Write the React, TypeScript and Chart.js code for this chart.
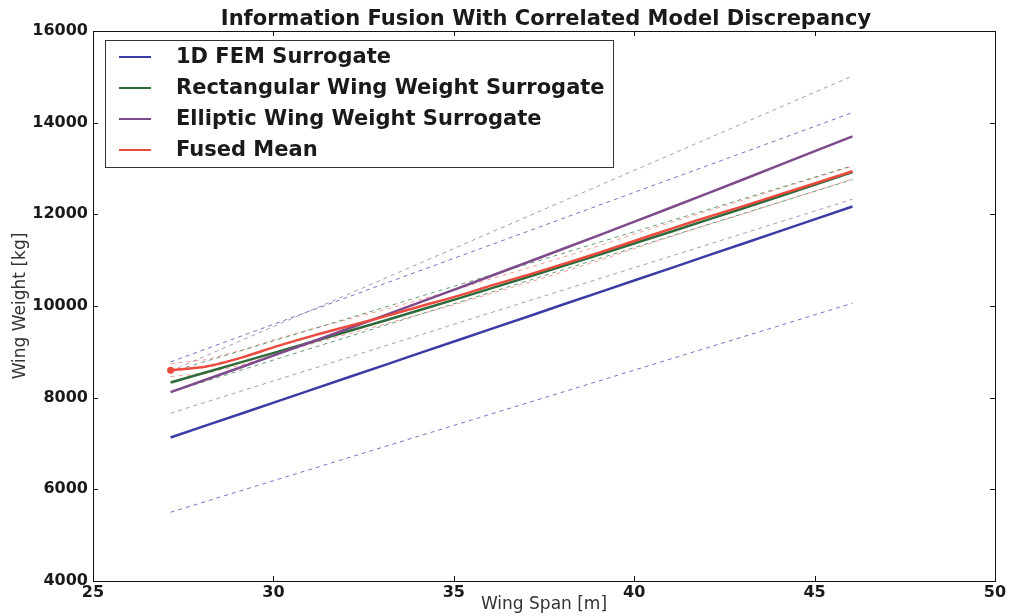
import React, { useEffect, useRef } from "react";
import { Chart, registerables } from "chart.js";

Chart.register(...registerables);

// ---- data ----
const chartTitle = "Information Fusion With Correlated Model Discrepancy";
const xTitle = "Wing Span [m]";
const yTitle = "Wing Weight [kg]";
const xTicks = [25, 30, 35, 40, 45, 50];
const yTicks = [4000, 6000, 8000, 10000, 12000, 14000, 16000];

const spans = [27.15, 28.14, 29.14, 30.13, 31.13, 32.12, 33.12, 34.11, 35.11, 36.1, 37.1, 38.09, 39.09, 40.08, 41.08, 42.07, 43.07, 44.06, 45.06, 46.05];
const femSurrogate = [7130, 7395, 7660, 7926, 8191, 8456, 8722, 8987, 9252, 9518, 9783, 10048, 10314, 10579, 10844, 11110, 11375, 11640, 11905, 12170];
const rectSurrogate = [8330, 8555, 8780, 9005, 9230, 9460, 9690, 9925, 10160, 10400, 10645, 10890, 11135, 11385, 11635, 11890, 12145, 12400, 12660, 12920];
const ellipticSurrogate = [8120, 8396, 8674, 8954, 9236, 9520, 9806, 10094, 10384, 10676, 10970, 11266, 11564, 11864, 12166, 12470, 12776, 13084, 13394, 13700];
const fusedMean = [8600, 8680, 8880, 9130, 9360, 9570, 9780, 10000, 10220, 10460, 10690, 10930, 11180, 11440, 11700, 11950, 12190, 12440, 12690, 12940];
const fusedUpper = [8740, 8830, 9040, 9290, 9510, 9720, 9930, 10150, 10370, 10610, 10840, 11080, 11330, 11590, 11840, 12080, 12320, 12570, 12810, 13050];
const fusedLower = [8460, 8530, 8720, 8960, 9190, 9400, 9610, 9830, 10050, 10290, 10520, 10760, 11010, 11270, 11530, 11780, 12020, 12270, 12520, 12770];

const bandSpan = [27.15, 46.05];
const femUpper = [8780, 14220];
const femLower = [5500, 10060];
const ellipticUpper = [8580, 15020];
const ellipticLower = [7660, 12330];
const rectUpper = [8560, 13060];
const rectLower = [8120, 12760];

const seriesNames = ["1D FEM Surrogate", "Rectangular Wing Weight Surrogate", "Elliptic Wing Weight Surrogate", "Fused Mean"];
const seriesColors = ["#3a3ca6", "#2e6a3a", "#7e4a8c", "#ec4a3e"];
const bandColors = ["rgba(70,70,170,0.75)", "rgba(50,120,70,0.75)", "rgba(140,90,150,0.65)", "rgba(236,90,80,0.6)"];

const FONT = "'DejaVu Sans', sans-serif";

const pts = (xs: number[], ys: number[]) => xs.map((x, i) => ({ x, y: ys[i] }));

const framePlugin = {
  id: "frame",
  afterDatasetsDraw(chart: any) {
    const { ctx, chartArea: a, scales } = chart;
    ctx.save();
    ctx.strokeStyle = "#111";
    ctx.lineWidth = 1;
    ctx.strokeRect(Math.round(a.left) + 0.5, Math.round(a.top) + 0.5, Math.round(a.right - a.left), Math.round(a.bottom - a.top));
    const tl = 5;
    ctx.beginPath();
    xTicks.forEach((v) => {
      const px = Math.round(scales.x.getPixelForValue(v)) + 0.5;
      ctx.moveTo(px, a.bottom);
      ctx.lineTo(px, a.bottom - tl);
      ctx.moveTo(px, a.top);
      ctx.lineTo(px, a.top + tl);
    });
    yTicks.forEach((v) => {
      const py = Math.round(scales.y.getPixelForValue(v)) + 0.5;
      ctx.moveTo(a.left, py);
      ctx.lineTo(a.left + tl, py);
      ctx.moveTo(a.right, py);
      ctx.lineTo(a.right - tl, py);
    });
    ctx.stroke();

    // title
    ctx.fillStyle = "#1a1a1a";
    ctx.font = `bold 21px ${FONT}`;
    ctx.textAlign = "center";
    ctx.textBaseline = "alphabetic";
    ctx.fillText(chartTitle, (a.left + a.right) / 2 + 2, 25);

    // legend
    const lx = 105, ly = 40, lw = 508, lh = 127;
    ctx.fillStyle = "#ffffff";
    ctx.fillRect(lx, ly, lw, lh);
    ctx.strokeStyle = "#333";
    ctx.strokeRect(lx + 0.5, ly + 0.5, lw, lh);
    ctx.font = `bold 21px ${FONT}`;
    ctx.textAlign = "left";
    ctx.textBaseline = "middle";
    seriesNames.forEach((name, i) => {
      const y = 57 + i * 31;
      ctx.strokeStyle = seriesColors[i];
      ctx.lineWidth = 2;
      ctx.beginPath();
      ctx.moveTo(119, y);
      ctx.lineTo(151, y);
      ctx.stroke();
      ctx.fillStyle = "#1a1a1a";
      ctx.fillText(name, 176, y + 1);
    });
    ctx.restore();
  },
};

export default function App() {
  const ref = useRef<HTMLCanvasElement>(null);
  useEffect(() => {
    if (!ref.current) return;
    const dashed = (xs: number[], ys: number[], color: string) => ({
      label: "",
      data: pts(xs, ys),
      borderColor: color,
      borderWidth: 1,
      borderDash: [4, 4],
      pointRadius: 0,
      fill: false,
      tension: 0,
      order: 10,
    });
    const chart = new Chart(ref.current, {
      type: "line",
      data: {
        datasets: [
          { label: seriesNames[3], data: pts(spans, fusedMean), borderColor: seriesColors[3], backgroundColor: seriesColors[3], borderWidth: 2.5, pointRadius: (c: any) => (c.dataIndex === 0 ? 3.5 : 0), pointBorderWidth: 0, tension: 0.3, order: 0 },
          { label: seriesNames[2], data: pts(spans, ellipticSurrogate), borderColor: seriesColors[2], borderWidth: 2.5, pointRadius: 0, order: 1 },
          { label: seriesNames[1], data: pts(spans, rectSurrogate), borderColor: seriesColors[1], borderWidth: 2.5, pointRadius: 0, order: 2 },
          { label: seriesNames[0], data: pts(spans, femSurrogate), borderColor: seriesColors[0], borderWidth: 2.5, pointRadius: 0, order: 3 },
          dashed(bandSpan, femUpper, bandColors[0]),
          dashed(bandSpan, femLower, bandColors[0]),
          dashed(bandSpan, rectUpper, bandColors[1]),
          dashed(bandSpan, rectLower, bandColors[1]),
          dashed(bandSpan, ellipticUpper, bandColors[2]),
          dashed(bandSpan, ellipticLower, bandColors[2]),
          dashed(spans, fusedUpper, bandColors[3]),
          dashed(spans, fusedLower, bandColors[3]),
        ] as any,
      },
      options: {
        animation: false,
        responsive: false,
        layout: { padding: { top: 31, right: 16, left: 0, bottom: 0 } },
        plugins: { legend: { display: false }, title: { display: false }, tooltip: { enabled: false } },
        scales: {
          x: {
            type: "linear",
            min: 25,
            max: 50,
            afterBuildTicks: (s: any) => { s.ticks = xTicks.map((v) => ({ value: v })); },
            afterFit: (s: any) => { s.height = 35; },
            grid: { display: false, drawTicks: false },
            border: { display: false },
            ticks: { padding: 2, color: "#1a1a1a", font: { family: FONT, size: 16, weight: "bold" }, maxRotation: 0 },
            title: { display: true, text: xTitle, color: "#333", font: { family: FONT, size: 17 }, padding: { top: 0, bottom: 1 } },
          },
          y: {
            type: "linear",
            min: 4000,
            max: 16000,
            afterBuildTicks: (s: any) => { s.ticks = yTicks.map((v) => ({ value: v })); },
            afterFit: (s: any) => { s.width = 93; },
            grid: { display: false, drawTicks: false },
            border: { display: false },
            ticks: { padding: 5, color: "#1a1a1a", font: { family: FONT, size: 16, weight: "bold" }, callback: (v: any) => String(v) },
            title: { display: true, text: yTitle, color: "#333", font: { family: FONT, size: 17 }, padding: { top: 10, bottom: 0 } },
          },
        },
      } as any,
      plugins: [framePlugin],
    });
    return () => chart.destroy();
  }, []);
  return (
    <div style={{ position: "absolute", left: 0, top: 0, width: 1011, height: 616, background: "#fff" }}>
      <canvas ref={ref} width={1011} height={616} style={{ display: "block" }} />
    </div>
  );
}
